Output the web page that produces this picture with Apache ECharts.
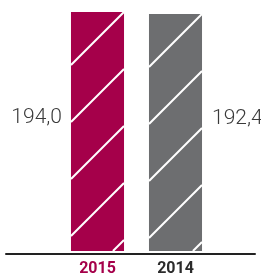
<!DOCTYPE html>
<html>
<head>
<meta charset="utf-8">
<script src="https://cdn.jsdelivr.net/npm/echarts@6/dist/echarts.min.js"></script>
<style>
  html, body { margin: 0; padding: 0; background: #fff; }
  #chart { width: 261px; height: 277px; }
</style>
</head>
<body>
<div id="chart"></div>
<script>
// data
var years = ['2015', '2014'];
var values = [194.0, 192.4];
var barColors = ['#a5004a', '#6d6e70'];
var yearColors = ['#a5004a', '#2b2b2b'];

function fmt(v) {
  return v.toFixed(1).replace('.', ',');
}

// bar with white diagonal hatch, value written beside it
function renderBar(params, api) {
  var i = api.value(0);
  var top = api.coord([i, api.value(1)]);
  var base = api.coord([i, 0]);
  var w = api.size([1, 0])[0] * 0.68;
  var x0 = top[0] - w / 2;
  var y0 = top[1];
  var h = base[1] - top[1];
  var children = [{
    type: 'rect',
    shape: {x: x0, y: y0, width: w, height: h},
    style: {fill: barColors[i]}
  }];
  for (var c = 53; c < w + h; c += 57) {
    var u1 = Math.max(0, c - h), v1 = c - u1;
    var u2 = Math.min(w, c), v2 = c - u2;
    children.push({
      type: 'line',
      shape: {x1: x0 + u1, y1: y0 + v1, x2: x0 + u2, y2: y0 + v2},
      style: {stroke: '#fff', lineWidth: 2}
    });
  }
  var onLeft = i === 0;
  children.push({
    type: 'text',
    x: onLeft ? x0 - 9 : x0 + w + 10,
    y: y0 + h / 2 - 14,
    style: {
      text: fmt(api.value(1)),
      textAlign: onLeft ? 'right' : 'left',
      textVerticalAlign: 'middle',
      font: '300 21px Roboto',
      fill: '#3a3a3a'
    }
  });
  return {type: 'group', children: children};
}

var chart = echarts.init(document.getElementById('chart'));
chart.setOption({
  animation: false,
  grid: [
    {left: 58.5, right: 46.5, top: 12, bottom: 23},
    {left: 6, right: 6, top: 12, bottom: 23}
  ],
  xAxis: [{
    gridIndex: 0,
    type: 'category',
    data: years,
    axisLine: {show: false},
    axisTick: {show: false},
    axisLabel: {
      margin: 10,
      formatter: function (v, idx) { return '{y' + idx + '|' + v + '}'; },
      rich: {
        y0: {color: yearColors[0], fontFamily: 'Roboto', fontWeight: 'bold', fontSize: 16},
        y1: {color: yearColors[1], fontFamily: 'Roboto', fontWeight: 'bold', fontSize: 16}
      }
    }
  }, {
    gridIndex: 1,
    type: 'value',
    min: 0,
    max: 1,
    axisLine: {show: true, lineStyle: {color: '#222', width: 2}},
    axisTick: {show: false},
    axisLabel: {show: false},
    splitLine: {show: false}
  }],
  yAxis: [{
    gridIndex: 0,
    type: 'value',
    min: 0,
    max: function (v) { return v.max; },
    show: false
  }, {
    gridIndex: 1,
    type: 'value',
    show: false
  }],
  series: [{
    type: 'custom',
    xAxisIndex: 0,
    yAxisIndex: 0,
    renderItem: renderBar,
    clip: false,
    data: values.map(function (v, i) { return [i, v]; })
  }]
});
</script>
</body>
</html>
